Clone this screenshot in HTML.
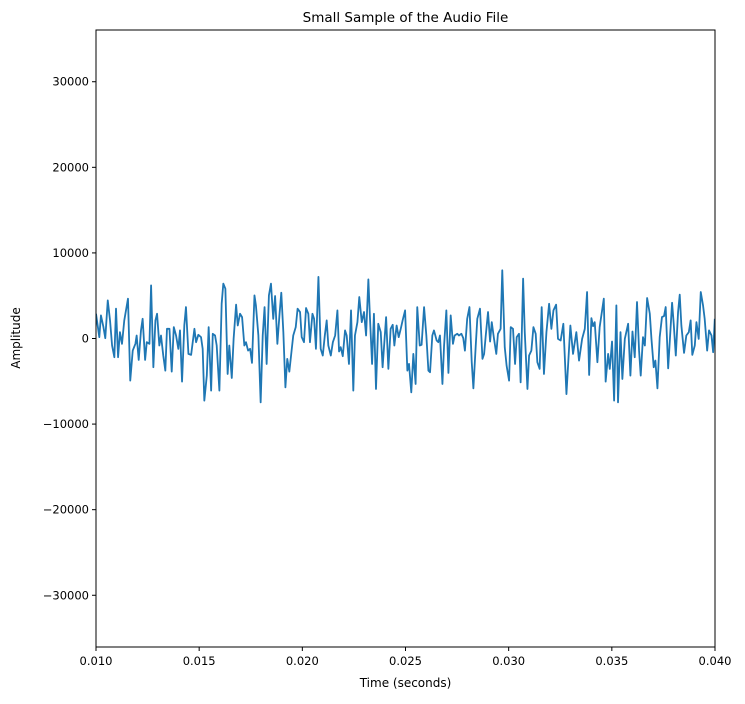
<!DOCTYPE html>
<html><head><meta charset="utf-8"><style>
body{margin:0;background:#fff;}
svg text{font-family:"DejaVu Sans","Liberation Sans",sans-serif;fill:#000;}
</style></head><body>
<svg id="chart" width="745" height="699" xmlns="http://www.w3.org/2000/svg">
<defs><clipPath id="clip"><rect x="96" y="30" width="619" height="617"/></clipPath></defs>
<rect x="0" y="0" width="745" height="699" fill="#fff"/>
<text x="405.5" y="22" text-anchor="middle" font-size="13.5">Small Sample of the Audio File</text>
<text x="405.5" y="687" text-anchor="middle" font-size="12">Time (seconds)</text>
<text x="20" y="338" text-anchor="middle" font-size="12" transform="rotate(-90 20 338)">Amplitude</text>
<g id="ticks"></g>
<path id="line" fill="none" stroke="#1f77b4" stroke-width="1.8" stroke-linejoin="round" clip-path="url(#clip)"/>
<rect x="96" y="30" width="619" height="617" fill="none" stroke="#000" stroke-width="1"/>
</svg>
<script>
const timeMs=[10.00,10.08,10.16,10.24,10.36,10.45,10.57,10.68,10.78,10.89,10.97,11.07,11.16,11.26,11.37,11.55,11.66,11.78,11.91,11.97,12.07,12.18,12.26,12.38,12.46,12.59,12.67,12.78,12.88,12.96,13.07,13.15,13.26,13.36,13.44,13.56,13.67,13.77,13.88,13.99,14.07,14.17,14.28,14.36,14.48,14.61,14.77,14.85,14.96,15.09,15.17,15.25,15.37,15.46,15.58,15.66,15.77,15.85,15.98,16.09,16.17,16.27,16.38,16.46,16.58,16.67,16.79,16.87,16.98,17.08,17.19,17.27,17.37,17.47,17.56,17.68,
17.75,17.87,17.98,18.08,18.17,18.27,18.38,18.48,18.59,18.68,18.79,18.89,18.98,19.08,19.18,19.27,19.37,19.48,19.56,19.68,19.77,19.89,19.97,20.08,20.18,20.29,20.37,20.49,20.57,20.66,20.78,20.89,20.99,21.09,21.18,21.26,21.38,21.48,21.59,21.70,21.78,21.86,21.96,22.07,22.15,22.26,22.36,22.47,22.55,22.67,22.76,22.88,22.99,23.09,23.20,23.28,23.38,23.47,23.57,23.68,23.80,23.89,24.06,24.17,24.28,24.38,24.46,24.57,24.67,24.77,24.86,24.98,25.09,
25.17,25.28,25.38,25.49,25.57,25.69,25.78,25.90,26.01,26.11,26.19,26.30,26.38,26.51,26.59,26.67,26.79,26.87,26.98,27.08,27.19,27.30,27.38,27.51,27.59,27.71,27.80,27.88,27.99,28.10,28.21,28.29,28.40,28.48,28.61,28.73,28.81,28.89,29.00,29.10,29.18,29.29,29.40,29.48,29.61,29.69,29.81,29.90,30.02,30.10,30.21,30.31,30.39,30.50,30.58,30.70,30.78,30.91,30.99,31.10,31.20,31.31,31.39,31.50,31.60,31.71,31.83,31.96,32.07,32.17,32.30,32.39,32.52,32.65,
32.80,32.99,33.12,33.28,33.41,33.56,33.69,33.80,33.90,34.01,34.09,34.17,34.30,34.41,34.61,34.70,34.82,34.90,35.01,35.11,35.22,35.30,35.42,35.51,35.63,35.79,35.90,36.00,36.11,36.22,36.32,36.40,36.51,36.60,36.71,36.84,36.92,37.03,37.11,37.21,37.32,37.43,37.53,37.61,37.73,37.92,38.00,38.10,38.21,38.29,38.37,38.50,38.61,38.73,38.82,38.90,39.02,39.10,39.21,39.31,39.42,39.50,39.62,39.71,39.83,39.91,39.99];
const ampK=[2.89,1.52,0.16,2.70,1.33,0.04,4.45,2.11,-0.82,-2.19,3.48,-2.19,0.74,-0.62,2.11,4.65,-4.92,-1.41,-0.62,0.35,-2.50,0.94,2.30,-2.50,-0.43,-0.62,6.21,-3.36,2.11,2.89,-0.82,0.35,-1.99,-3.75,1.13,1.13,-3.87,1.33,0.35,-1.21,0.94,-5.04,1.52,3.67,-1.80,-1.91,1.13,-0.43,0.43,0.16,-1.21,-7.26,-4.33,1.33,-6.09,0.55,0.35,-0.82,-6.09,4.06,6.41,5.82,-4.14,-0.82,-4.61,-0.04,3.95,1.52,2.89,2.50,-0.82,-0.43,-1.41,-1.21,-2.85,5.04,
3.87,0.35,-7.46,0.35,3.67,-2.97,5.04,6.41,2.30,4.96,-0.62,2.70,5.35,0.74,-5.70,-2.38,-3.87,-1.41,0.35,1.33,3.48,3.09,0.16,-0.43,3.56,2.89,-0.43,2.89,2.30,-1.21,7.19,-1.21,-1.99,0.35,2.11,-0.82,-1.99,-0.43,0.35,3.28,-1.52,-1.02,-2.07,0.94,0.35,-2.97,3.28,-6.09,0.35,1.91,4.84,1.91,3.09,0.35,6.91,2.30,-2.97,2.89,-5.90,1.72,0.74,-3.36,2.50,-3.55,1.13,1.60,-0.82,1.52,0.16,1.13,2.11,3.28,-3.75,
-2.97,-6.29,-1.80,-5.31,3.67,-0.82,-0.74,3.67,0.35,-3.75,-3.94,0.35,0.94,-0.23,-0.43,0.35,-5.31,-0.82,3.28,-4.02,2.70,-0.62,0.35,0.55,0.35,0.55,0.04,-1.41,2.30,3.67,-2.77,-5.82,-1.02,2.30,3.48,-2.38,-1.80,0.35,3.09,-0.35,1.91,-0.04,-1.80,0.55,1.13,7.97,-1.02,-3.16,-4.92,1.33,1.13,-2.97,0.16,0.55,-5.12,6.99,0.74,-5.90,-1.99,-1.41,1.33,0.55,-2.77,-3.55,3.67,-4.14,0.74,4.06,1.13,3.28,3.95,-0.04,-0.23,1.72,
-6.49,1.52,-1.80,0.74,-2.58,-0.04,1.13,5.43,-4.26,2.38,1.44,1.91,-2.77,1.33,4.65,-5.04,-1.80,-3.55,-0.35,-7.26,3.87,-7.46,0.74,-4.73,-0.04,1.72,-4.33,0.82,-2.19,4.26,-1.41,-4.33,0.16,-0.82,4.73,2.89,-0.04,-3.36,-2.58,-5.82,0.16,2.50,2.62,3.67,-3.48,4.18,1.72,-1.99,3.09,5.12,1.52,-1.68,0.35,0.74,2.11,-1.91,-0.82,1.91,-0.04,5.43,3.87,2.30,-1.41,0.94,0.35,-1.60,2.30];
const xTicks=[0.010,0.015,0.020,0.025,0.030,0.035,0.040];
const xTickLabels=["0.010","0.015","0.020","0.025","0.030","0.035","0.040"];
const yTicks=[-30000,-20000,-10000,0,10000,20000,30000];
const yTickLabels=["\u221230000","\u221220000","\u221210000","0","10000","20000","30000"];
const X0=96,X1=715,Y0=30,Y1=647,xMin=0.010,xMax=0.040,yMin=-36044,yMax=36044;
function xs(t){return X0+(t-xMin)/(xMax-xMin)*(X1-X0);}
function ys(v){return Y1-(v-yMin)/(yMax-yMin)*(Y1-Y0);}
const NS="http://www.w3.org/2000/svg";
const g=document.getElementById('ticks');
xTicks.forEach((t,i)=>{
  const x=xs(t);
  const l=document.createElementNS(NS,'line');
  l.setAttribute('x1',x);l.setAttribute('x2',x);l.setAttribute('y1',Y1);l.setAttribute('y2',Y1+4);l.setAttribute('stroke','#000');
  
  
  g.appendChild(l);
  const tx=document.createElementNS(NS,'text');
  tx.setAttribute('x',x);tx.setAttribute('y',Y1+18);tx.setAttribute('text-anchor','middle');tx.setAttribute('font-size','11.5');
  tx.textContent=xTickLabels[i];
  
  
  g.appendChild(tx);
});
yTicks.forEach((v,i)=>{
  const y=ys(v);
  const l=document.createElementNS(NS,'line');
  l.setAttribute('x1',X0-4);l.setAttribute('x2',X0);l.setAttribute('y1',y);l.setAttribute('y2',y);l.setAttribute('stroke','#000');
  
  
  g.appendChild(l);
  const tx=document.createElementNS(NS,'text');
  tx.setAttribute('x',X0-7);tx.setAttribute('y',y+4);tx.setAttribute('text-anchor','end');tx.setAttribute('font-size','11.5');
  tx.textContent=yTickLabels[i];
  
  
  g.appendChild(tx);
});
let d='';
for(let i=0;i<timeMs.length;i++){
  d+=(i?'L':'M')+xs(timeMs[i]/1000).toFixed(2)+' '+ys(ampK[i]*1000).toFixed(2);
}
document.getElementById('line').setAttribute('d',d);
</script>
</body></html>
